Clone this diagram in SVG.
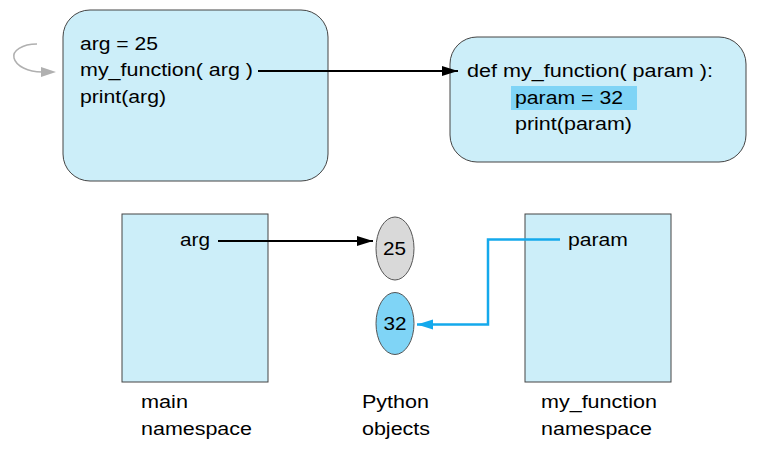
<svg xmlns="http://www.w3.org/2000/svg" width="768" height="450" viewBox="0 0 768 450">
<style>
text{font-family:"Liberation Sans",Arial,sans-serif;font-size:17.5px;fill:#000}
.box{fill:#cceef9;stroke:#444;stroke-width:1}
.ln{fill:none;stroke:#000;stroke-width:2}
.bl{fill:none;stroke:#14a9ec;stroke-width:2.5}
</style>
<defs>
<marker id="ah" markerUnits="userSpaceOnUse" markerWidth="18" markerHeight="12" refX="16" refY="5" orient="auto"><path d="M0,0 L16,5 L0,10 z" fill="#000"/></marker>
<marker id="ahb" markerUnits="userSpaceOnUse" markerWidth="18" markerHeight="12" refX="16" refY="5" orient="auto"><path d="M0,0 L16,5 L0,10 z" fill="#14a9ec"/></marker>
</defs>
<g id="loop">
<path d="M37,44 C22,44 12,51 14,58 C16,66 28,72 42,72" fill="none" stroke="#b0b0b0" stroke-width="1.5"/>
<polygon points="41,67 56,72 41,77" fill="#b0b0b0"/>
</g>
<g id="main-code">
<rect class="box" x="63" y="10" width="265" height="171" rx="27"/>
<text x="80" y="49.5" textLength="78" lengthAdjust="spacingAndGlyphs">arg = 25</text>
<text x="80" y="76" textLength="173" lengthAdjust="spacingAndGlyphs">my_function( arg )</text>
<text x="80" y="102.5" textLength="86" lengthAdjust="spacingAndGlyphs">print(arg)</text>
</g>
<g id="func-code">
<rect class="box" x="450" y="37" width="296" height="125" rx="27"/>
<rect x="511" y="86" width="126" height="24" fill="#7fd4f6"/>
<text x="467" y="77" textLength="246" lengthAdjust="spacingAndGlyphs">def my_function( param ):</text>
<text x="515" y="103.5" textLength="108" lengthAdjust="spacingAndGlyphs">param = 32</text>
<text x="515" y="130" textLength="117" lengthAdjust="spacingAndGlyphs">print(param)</text>
</g>
<g id="main-ns">
<rect class="box" x="122" y="214" width="146" height="168"/>
<text x="180" y="246" textLength="30" lengthAdjust="spacingAndGlyphs">arg</text>
<text x="141" y="408" textLength="47" lengthAdjust="spacingAndGlyphs">main</text>
<text x="141" y="435" textLength="111" lengthAdjust="spacingAndGlyphs">namespace</text>
</g>
<g id="func-ns">
<rect class="box" x="525" y="214" width="146" height="168"/>
<text x="568" y="246" textLength="60" lengthAdjust="spacingAndGlyphs">param</text>
<text x="541" y="408" textLength="116" lengthAdjust="spacingAndGlyphs">my_function</text>
<text x="541" y="435" textLength="111" lengthAdjust="spacingAndGlyphs">namespace</text>
</g>
<g id="objects">
<ellipse cx="395" cy="248.5" rx="19" ry="31.5" fill="#d9d9d9" stroke="#555" stroke-width="1"/>
<text x="383" y="255" textLength="23" lengthAdjust="spacingAndGlyphs">25</text>
<ellipse cx="395" cy="323.5" rx="19" ry="31" fill="#7fd4f6" stroke="#555" stroke-width="1"/>
<text x="383.5" y="330" textLength="23" lengthAdjust="spacingAndGlyphs">32</text>
<text x="362" y="408" textLength="67" lengthAdjust="spacingAndGlyphs">Python</text>
<text x="362" y="435" textLength="68" lengthAdjust="spacingAndGlyphs">objects</text>
</g>
<g id="connectors">
<line class="ln" x1="258" y1="71" x2="458" y2="71" marker-end="url(#ah)"/>
<line class="ln" x1="218" y1="241" x2="373" y2="241" marker-end="url(#ah)"/>
<path class="bl" d="M560,239.5 H488 V324.5 H417" marker-end="url(#ahb)"/>
</g>
</svg>
